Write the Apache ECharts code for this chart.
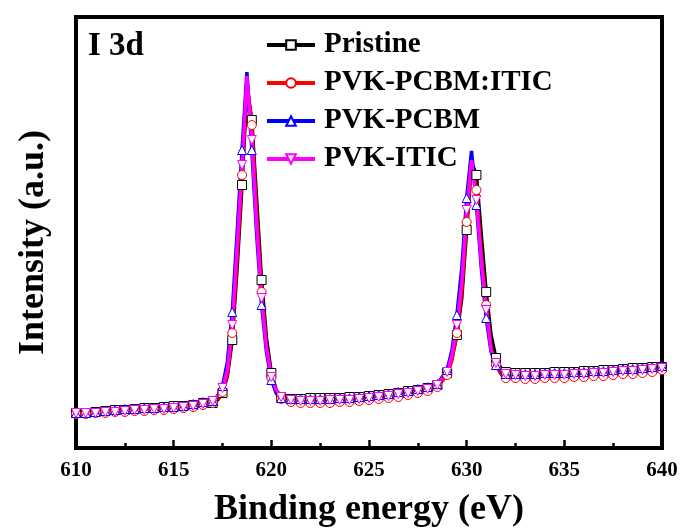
<!DOCTYPE html>
<html>
<head>
<meta charset="utf-8">
<script src="https://cdn.jsdelivr.net/npm/echarts@6/dist/echarts.min.js"></script>
<style>
  html, body { margin: 0; padding: 0; background: #fff; }
  #xps { width: 683px; height: 529px; }
</style>
</head>
<body>
<div id="xps"></div>
<script>
// binding energy grid (eV), finer around the two I 3d peaks
var energies = [610,610.5,611,611.5,612,612.5,613,613.5,614,614.5,615,615.5,616,616.5,617,
  617.25,617.5,617.75,618,618.25,618.5,618.75,619,619.25,619.5,619.75,620,620.25,620.5,
  621,621.5,622,622.5,623,623.5,624,624.5,625,625.5,626,626.5,627,627.5,628,628.5,629,
  629.25,629.5,629.75,630,630.25,630.5,630.75,631,631.25,631.5,631.75,632,
  632.5,633,633.5,634,634.5,635,635.5,636,636.5,637,637.5,638,638.5,639,639.5,640];

// intensity (a.u.)
var pristine = [35,35,36,37,38,38,39,40,40,41,42,42,43,45,45,
  48,55,72,108,180,263,360,328,248,168,110,75,58,51,
  49,49,50,50,50,50,51,51,52,53,54,55,57,58,60,63,75,
  90,113,150,218,286,273,213,156,113,90,80,76,
  75,75,75,75,76,76,76,77,77,78,78,79,80,80,81,81];
var pcbmItic = [34,34,35,35,36,36,37,37,38,38,39,40,41,43,45,
  49,56,74,115,190,273,368,323,233,156,102,70,55,49,
  46,45,45,45,45,46,46,47,48,49,50,51,53,55,57,61,73,
  88,115,156,226,286,258,193,143,100,83,74,70,
  70,69,69,70,70,70,71,71,72,72,73,74,74,75,76,78];
var pcbm = [35,35,36,37,38,39,39,40,40,41,41,42,44,46,47,
  52,62,86,136,216,298,376,298,213,143,96,68,55,50,
  49,49,49,49,49,50,50,51,52,53,54,56,57,59,61,64,78,
  98,133,180,250,297,243,180,130,96,83,77,74,
  74,74,74,75,75,75,76,76,77,77,78,79,79,80,81,82];
var itic = [35,35,35,36,36,37,38,38,39,39,40,41,42,44,47,
  52,60,78,123,202,283,372,308,222,150,100,71,58,51,
  48,47,47,47,48,48,48,49,50,51,52,54,55,57,59,63,76,
  93,123,166,238,288,248,186,138,98,85,78,74,
  73,72,72,73,73,73,74,74,75,75,76,77,77,78,79,80];

var xTicks = [610, 615, 620, 625, 630, 635, 640];

var serif = "'Liberation Serif', 'Times New Roman', serif";

// markers only on the half-eV points
function toData(vals) {
  return energies.map(function (e, i) {
    var item = { value: [e, vals[i]] };
    if ((e * 2) % 1 !== 0) item.symbol = 'none';
    return item;
  });
}

function mkSeries(name, vals, color, symbol, rotate) {
  return {
    name: name,
    type: 'line',
    data: toData(vals),
    symbol: symbol,
    symbolRotate: rotate || 0,
    symbolSize: 9,
    lineStyle: { color: color, width: 3.5 },
    itemStyle: { color: '#fff', borderColor: color, borderWidth: 1 },
    emphasis: { disabled: true },
    animation: false
  };
}

var chart = echarts.init(document.getElementById('xps'));
chart.setOption({
  backgroundColor: '#fff',
  title: {
    text: 'I 3d',
    left: 83,
    top: 25,
    textStyle: { fontFamily: serif, fontWeight: 'bold', fontSize: 33, color: '#000' }
  },
  legend: {
    orient: 'vertical',
    left: 260,
    top: 25,
    itemWidth: 48,
    itemHeight: 12,
    itemGap: 8,
    lineStyle: { width: 4 },
    textStyle: { fontFamily: serif, fontWeight: 'bold', fontSize: 29, color: '#000', lineHeight: 30, padding: [0, 0, 0, 4] },
    data: ['Pristine', 'PVK-PCBM:ITIC', 'PVK-PCBM', 'PVK-ITIC']
  },
  grid: {
    left: 76, right: 21, top: 17, bottom: 81,
    outerBoundsMode: 'none',
    show: true, borderColor: '#000', borderWidth: 4
  },
  xAxis: {
    type: 'value',
    min: 610, max: 640, interval: 5,
    name: 'Binding energy (eV)',
    nameLocation: 'middle',
    nameGap: 44,
    nameTextStyle: { fontFamily: serif, fontWeight: 'bold', fontSize: 36, color: '#000' },
    axisLine: { show: true, lineStyle: { color: '#000', width: 4 } },
    axisTick: { inside: true, length: 8, lineStyle: { color: '#000', width: 2.5 } },
    minorTick: { show: true, splitNumber: 2, length: 5, lineStyle: { color: '#000', width: 2.5 } },
    splitLine: { show: false },
    axisLabel: {
      margin: 12,
      fontFamily: serif, fontWeight: 'bold', fontSize: 21, color: '#000',
      formatter: function (v) { return xTicks.indexOf(v) >= 0 ? String(v) : ''; }
    }
  },
  yAxis: {
    type: 'value',
    min: 0, max: 431,
    name: 'Intensity (a.u.)',
    nameLocation: 'middle',
    nameGap: 24,
    nameTextStyle: { fontFamily: serif, fontWeight: 'bold', fontSize: 36, color: '#000', padding: [0, 20, 0, 0] },
    axisLine: { show: true, lineStyle: { color: '#000', width: 4 } },
    axisTick: { show: false },
    axisLabel: { show: false },
    splitLine: { show: false }
  },
  series: [
    mkSeries('Pristine', pristine, '#000000', 'rect'),
    mkSeries('PVK-PCBM:ITIC', pcbmItic, '#ff0000', 'circle'),
    mkSeries('PVK-PCBM', pcbm, '#0000ff', 'triangle'),
    mkSeries('PVK-ITIC', itic, '#ff00ff', 'triangle', 180)
  ]
});
</script>
</body>
</html>
